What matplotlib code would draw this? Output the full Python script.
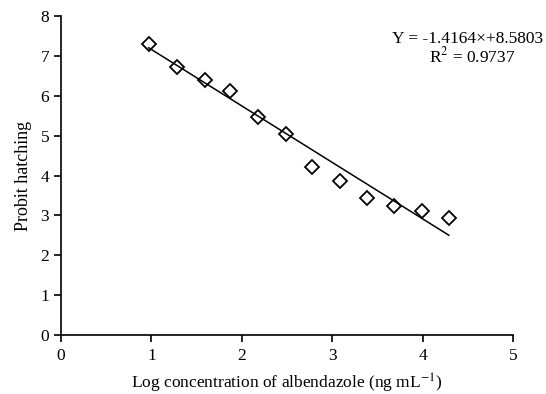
import numpy as np
import matplotlib
matplotlib.use("Agg")
import matplotlib.pyplot as plt

plt.rcParams['font.family'] = ['Liberation Serif', 'DejaVu Serif']
plt.rcParams['mathtext.fontset'] = 'stix'

# log concentration and probit hatching
log_conc = [0.97, 1.28, 1.59, 1.87, 2.18, 2.49, 2.78, 3.09, 3.38, 3.68, 3.99, 4.29]
probit = [7.29, 6.72, 6.39, 6.11, 5.46, 5.04, 4.22, 3.87, 3.45, 3.24, 3.12, 2.94]
slope = -1.4164
intercept = 8.5803
r2 = 0.9737

fig = plt.figure(figsize=(5.46, 3.94), dpi=100)
ax = fig.add_axes([0.1117, 0.1497, 0.8279, 0.8093])

ax.plot(log_conc, probit, linestyle='none', marker='D', markersize=7.5,
        markerfacecolor='white', markeredgecolor='black', markeredgewidth=1.3)

fit_x = np.array([log_conc[0], log_conc[-1]])
ax.plot(fit_x, slope * fit_x + intercept, color='black', linewidth=1.1)

ax.set_xlim(0, 5)
ax.set_ylim(0, 8)
ax.set_xticks(range(0, 6))
ax.set_yticks(range(0, 9))
for side in ['top', 'right']:
    ax.spines[side].set_visible(False)
for side in ['left', 'bottom']:
    ax.spines[side].set_linewidth(1.2)
ax.tick_params(direction='out', length=5, width=1.2, labelsize=12.5)
ax.tick_params(axis='x', pad=4)

ax.set_xlabel('Log concentration of albendazole (ng mL$^{-1}$)', fontsize=12.5, labelpad=6)
ax.set_ylabel('Probit hatching', fontsize=13, labelpad=6)

fig.text(0.995, 0.902, 'Y = -1.4164\u00d7+8.5803', ha='right', va='center', fontsize=12.5)
fig.text(0.865, 0.857, 'R$^{2}$ = %.4f' % r2, ha='center', va='center', fontsize=12.5)

fig.savefig('out.png', dpi=100)
